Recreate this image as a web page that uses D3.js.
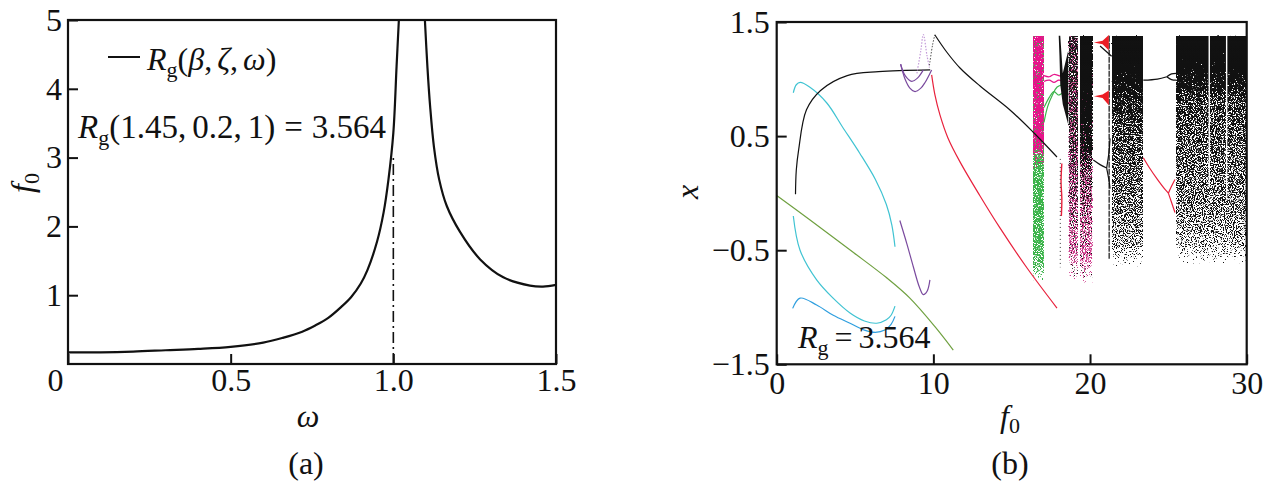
<!DOCTYPE html>
<html>
<head>
<meta charset="utf-8">
<script src="https://cdn.jsdelivr.net/npm/d3@7"></script>
<style>
  body { margin: 0; background: #fff; }
  text { font-family: "Liberation Serif", "DejaVu Serif", serif; fill: #111; }
</style>
</head>
<body>
<script>
'use strict';

// ---------- panel (a): f0 = Rg(beta, zeta, omega) ----------
const omegaLeft = [0, 0.1, 0.2, 0.3, 0.4, 0.5, 0.6, 0.66, 0.72, 0.76, 0.8, 0.84, 0.87, 0.9, 0.92, 0.95, 0.97, 0.985, 1.0, 1.01, 1.017];
const f0Left    = [0.17, 0.17, 0.18, 0.2, 0.22, 0.25, 0.31, 0.38, 0.47, 0.56, 0.67, 0.83, 0.97, 1.17, 1.36, 1.78, 2.2, 2.68, 3.36, 4.33, 5.0];
const omegaRight = [1.097, 1.105, 1.113, 1.125, 1.141, 1.164, 1.205, 1.267, 1.338, 1.42, 1.46, 1.5];
const f0Right    = [5.0, 4.3, 3.75, 3.15, 2.68, 2.3, 1.92, 1.52, 1.26, 1.14, 1.125, 1.15];
const markerLine = [[1.0, 0], [1.0, 3.0]];   // dash-dot at omega = 1
const ticksAx = [0, 0.5, 1.0, 1.5];
const labelsAx = ["0", "0.5", "1.0", "1.5"];
const ticksAy = [1, 2, 3, 4, 5];

// ---------- panel (b): bifurcation diagram, branches as [f0, x] ----------
const blackMain   = [[1.2, -0.01], [1.25, 0.2], [1.4, 0.38], [1.9, 0.73], [2.8, 0.9], [4.5, 1.03], [6.5, 1.065], [9.8, 1.08]];
const cyanUpper   = [[1.06, 0.88], [1.25, 0.95], [1.5, 0.97], [2.1, 0.93], [3.2, 0.79], [4.2, 0.58], [5.3, 0.35], [6.3, 0.12], [7.0, -0.1], [7.35, -0.28], [7.55, -0.47]];
const cyanLower   = [[1.06, -0.2], [1.49, -0.5], [2.55, -0.76], [3.6, -0.92], [4.68, -1.05], [5.6, -1.12], [6.38, -1.14], [7.0, -1.11], [7.3, -1.07], [7.55, -0.99]];
const blueLower   = [[1.02, -1.01], [1.49, -0.92], [2.55, -0.98], [3.61, -1.07], [4.68, -1.14], [5.6, -1.2], [6.3, -1.22], [6.9, -1.2], [7.3, -1.15], [7.55, -1.08]];
const greenLine   = [[0, -0.02], [2.13, -0.235], [4.9, -0.52], [7.0, -0.74], [8.5, -0.92], [10.1, -1.17], [11.27, -1.375]];
const purpleU1    = [[7.91, 1.13], [8.2, 1.03], [8.62, 0.98], [9.0, 1.01], [9.36, 1.08]];
const purpleU2    = [[7.91, 1.13], [8.19, 1.0], [8.5, 0.92], [8.83, 0.89], [9.2, 0.92], [9.47, 0.97], [9.89, 1.08]];
const purpleLow   = [[7.86, -0.24], [8.3, -0.44], [8.72, -0.645], [9.1, -0.82], [9.36, -0.89], [9.6, -0.86], [9.78, -0.76]];
const purpleFaint = [[8.95, 1.05], [9.2, 1.25], [9.36, 1.39], [9.6, 1.2], [9.75, 1.1]];
const blackPeakL  = [[9.75, 1.12], [9.95, 1.3], [10.1, 1.39]];
const blackDesc   = [[10.1, 1.386], [10.85, 1.237], [11.7, 1.097], [12.98, 0.939], [14.89, 0.729], [16.36, 0.536], [17.89, 0.317]];
const redDesc     = [[9.89, 1.036], [10.1, 0.861], [10.42, 0.686], [10.93, 0.484], [11.7, 0.274], [12.98, -0.025], [14.25, -0.305], [15.98, -0.656], [17.89, -1.007]];
const magentaWin1 = [[17.06, 1.03], [17.4, 1.02], [17.7, 1.04], [18.0, 1.03], [18.26, 1.02]];
const magentaWin2 = [[17.06, 0.98], [17.4, 0.99], [17.7, 0.97], [18.0, 0.99], [18.26, 0.98]];
const greenWin1   = [[17.06, 0.62], [17.3, 0.76], [17.6, 0.86], [17.9, 0.93], [18.26, 0.95]];
const greenWin2   = [[17.06, 0.75], [17.4, 0.84], [17.7, 0.89], [18.0, 0.86], [18.26, 0.88]];
const redShort    = [[18.2, 0.26], [18.15, 0.1], [18.2, -0.05], [18.17, -0.2]];
const blackDotted = [[18.1, 0.3], [18.1, -0.65]];
const blackFork   = [[20.21, 0.29], [20.64, 0.25], [21.06, 0.22]];
const blackForkUp = [[21.06, 0.22], [21.2, 0.35], [21.28, 0.48]];
const blackForkDn = [[21.06, 0.22], [21.2, 0.12], [21.28, 0.04]];
const blackDiag   = [[20.64, 1.29], [21.38, 1.2]];
const blackSpike  = [[21.22, 1.38], [21.22, -0.58]];
const blackLink   = [[23.4, 0.99], [24.3, 1.0], [24.9, 1.02]];
const blackLinkUp = [[24.9, 1.02], [25.2, 1.045], [25.5, 1.05]];
const blackLinkDn = [[24.9, 1.02], [25.2, 0.995], [25.5, 0.99]];
const redB        = [[23.4, 0.31], [23.8, 0.22], [24.3, 0.12], [24.8, 0.03], [25.0, 0.0]];
const redBUp      = [[25.0, 0.0], [25.2, 0.06], [25.42, 0.12]];
const redBDn      = [[25.0, 0.0], [25.2, -0.08], [25.42, -0.17]];
const redCusp1    = [[20.25, 1.32], [20.8, 1.335], [21.2, 1.385], [21.2, 1.25], [20.8, 1.305]];
const redCusp2    = [[20.25, 0.85], [20.8, 0.865], [21.2, 0.9], [21.2, 0.77], [20.8, 0.835]];
const blackMass   = [[18.0, 1.38], [18.1, 1.38], [18.26, 1.05], [18.61, 1.25], [18.61, 0.6], [18.26, 0.78], [18.1, 0.95], [18.05, 1.2]];
const gapLines    = [[27.61, 1.38, 0.05], [28.72, 1.38, -0.05]];   // white gaps in last band

// chaotic bands: f0 range, colour and point coverage down the x axis
const bandF0     = [[16.34, 17.06], [16.34, 17.06], [18.61, 19.25], [18.61, 19.25], [19.36, 20.17], [19.36, 20.17], [21.38, 23.4], [25.49, 30]];
const bandColors = ["#3cb44b", "#e6138a", "#d0408f", "#1a1a1a", "#d0408f", "#111111", "#111111", "#111111"];
const bandCover  = [
  [[1.38, 0.5], [0.36, 0.8], [-0.4, 0.75], [-0.62, 0.55], [-0.8, 0]],
  [[1.38, 0.92], [0.42, 0.92], [0.33, 0.3], [0.2, 0]],
  [[1.38, 0.55], [0.6, 0.55], [-0.5, 0.5], [-0.78, 0]],
  [[1.38, 0.7], [0.6, 0.55], [0.0, 0.3], [-0.78, 0]],
  [[1.38, 0.3], [0.5, 0.5], [-0.55, 0.5], [-0.8, 0]],
  [[1.38, 0.97], [0.4, 0.88], [0.2, 0.45], [-0.8, 0]],
  [[1.38, 0.97], [0.85, 0.92], [0.6, 0.7], [0.2, 0.55], [-0.2, 0.45], [-0.45, 0.3], [-0.65, 0]],
  [[1.38, 0.98], [0.92, 0.95], [0.8, 0.65], [0.3, 0.55], [-0.1, 0.45], [-0.35, 0.3], [-0.48, 0.15], [-0.62, 0]]
];
const bandSeeds  = [1, 2, 1, 3, 2, 3, 1, 2];
const ticksBx = [0, 10, 20, 30];
const ticksBy = [-1.5, -0.5, 0.5, 1.5];

const FONT = 32;
const svg = d3.select('body').append('svg').attr('width', 1270).attr('height', 486);

makeGrainFilters();
drawPanelA();
drawPanelB();

// noise filters that turn a coverage gradient into a speckled point cloud
function makeGrainFilters() {
  let defs = svg.append('defs');
  [1, 2, 3].forEach(seed => {
    let f = defs.append('filter').attr('id', 'grain' + seed)
      .attr('x', 0).attr('y', 0).attr('width', 1).attr('height', 1)
      .attr('color-interpolation-filters', 'sRGB');
    f.append('feTurbulence').attr('type', 'fractalNoise').attr('baseFrequency', 0.9)
      .attr('numOctaves', 2).attr('seed', seed * 7).attr('result', 'noise');
    f.append('feColorMatrix').attr('in', 'noise').attr('type', 'matrix')
      .attr('values', '0 0 0 0 0 0 0 0 0 0 0 0 0 0 0 1 0 0 0 0').attr('result', 'na');
    f.append('feComposite').attr('in', 'SourceAlpha').attr('in2', 'na').attr('operator', 'arithmetic')
      .attr('k1', 0).attr('k2', 14).attr('k3', -14).attr('k4', 0).attr('result', 'mask');
    f.append('feColorMatrix').attr('in', 'SourceGraphic').attr('type', 'matrix')
      .attr('values', '1 0 0 0 0 0 1 0 0 0 0 0 1 0 0 0 0 0 0 1').attr('result', 'solid');
    f.append('feComposite').attr('in', 'solid').attr('in2', 'mask').attr('operator', 'in');
  });
}

// R with roman subscript g, then a list of [text, italic, dx] pieces
function rgText(x, y, pieces, size) {
  size = size || FONT;
  let t = svg.append('text').attr('x', x).attr('y', y).style('font-size', size + 'px');
  t.append('tspan').style('font-style', 'italic').text('R');
  t.append('tspan').attr('dy', 7).style('font-size', '22px').text('g');
  pieces.forEach((p, i) => {
    let s = t.append('tspan').style('font-style', p[1] ? 'italic' : 'normal').text(p[0]);
    if (i === 0) s.attr('dy', -7);
    if (p[2]) s.attr('dx', p[2]);
  });
  return t;
}

function styleAxis(g) {
  g.select('.domain').remove();
  g.selectAll('.tick line').attr('stroke', '#111').attr('stroke-width', 2);
  g.selectAll('.tick text').attr('font-family', '"Liberation Serif", serif').attr('font-size', FONT);
  g.attr('font-size', FONT);
}

function drawPanelA() {
  let x = d3.scaleLinear().domain([0, 1.5]).range([68, 556]);
  let y = d3.scaleLinear().domain([0, 5]).range([364, 20]);

  let gx = svg.append('g').attr('transform', 'translate(0,364)')
    .call(d3.axisBottom(x).tickValues(ticksAx).tickSize(-10).tickPadding(4)
      .tickFormat((d, i) => labelsAx[i]));
  styleAxis(gx);
  gx.selectAll('.tick text').filter(d => d === 0).attr('dx', -13);

  let gy = svg.append('g').attr('transform', 'translate(68,0)')
    .call(d3.axisLeft(y).tickValues(ticksAy).tickSize(-10).tickPadding(6).tickFormat(d3.format('d')));
  styleAxis(gy);

  let line = d3.line().x(d => x(d[0])).y(d => y(d[1])).curve(d3.curveCatmullRom.alpha(0.5));
  svg.append('path').datum(omegaLeft.map((w, i) => [w, f0Left[i]]))
    .attr('d', line).attr('fill', 'none').attr('stroke', '#111').attr('stroke-width', 2.2);
  svg.append('path').datum(omegaRight.map((w, i) => [w, f0Right[i]]))
    .attr('d', line).attr('fill', 'none').attr('stroke', '#111').attr('stroke-width', 2.2);
  svg.append('path').datum(markerLine)
    .attr('d', d3.line().x(d => x(d[0])).y(d => y(d[1])))
    .attr('fill', 'none').attr('stroke', '#111').attr('stroke-width', 1.6)
    .style('stroke-dasharray', '11,4,2,4');

  svg.append('rect').attr('x', 68).attr('y', 20).attr('width', 488).attr('height', 344)
    .attr('fill', 'none').attr('stroke', '#111').attr('stroke-width', 2.2);

  // legend and annotation
  svg.append('line').attr('x1', 108).attr('x2', 140).attr('y1', 57).attr('y2', 57)
    .attr('stroke', '#111').attr('stroke-width', 2);
  rgText(147, 70, [['(', 0], ['β', 1], [',', 0], ['ζ', 1, 5], [',', 0], ['ω', 1, 5], [')', 0]]);
  rgText(78, 138, [['(1.45,', 0], ['0.2,', 0, 6], ['1)', 0, 6], ['=', 0, 9], ['3.564', 0, 9]], 33);

  svg.append('text').attr('x', 308).attr('y', 427).attr('text-anchor', 'middle')
    .style('font-size', FONT + 'px').style('font-style', 'italic').text('ω');
  let fl = svg.append('text').attr('transform', 'translate(33,183) rotate(-90)')
    .attr('text-anchor', 'middle').style('font-size', FONT + 'px');
  fl.append('tspan').style('font-style', 'italic').text('f');
  fl.append('tspan').attr('dy', 6).style('font-size', '22px').text('0');
  svg.append('text').attr('x', 306).attr('y', 474).attr('text-anchor', 'middle')
    .style('font-size', FONT + 'px').text('(a)');
}

function drawPanelB() {
  let x = d3.scaleLinear().domain([0, 30]).range([776.7, 1246.7]);
  let y = d3.scaleLinear().domain([-1.5, 1.5]).range([364.3, 22]);
  let defs = svg.select('defs');

  // chaotic bands
  bandF0.forEach((r, i) => {
    let yTop = y(bandCover[i][0][0]);
    let yBot = y(bandCover[i][bandCover[i].length - 1][0]);
    let grad = defs.append('linearGradient').attr('id', 'band' + i)
      .attr('gradientUnits', 'userSpaceOnUse')
      .attr('x1', 0).attr('x2', 0).attr('y1', yTop).attr('y2', yBot);
    bandCover[i].forEach(s => {
      let c = s[1];
      let dens = c >= 0.97 ? 1 : (c <= 0 ? 0.3 : 0.4 + c * 0.3);
      grad.append('stop').attr('offset', (y(s[0]) - yTop) / (yBot - yTop))
        .attr('stop-color', bandColors[i]).attr('stop-opacity', dens);
    });
    svg.append('rect').attr('x', x(r[0])).attr('width', x(r[1]) - x(r[0]))
      .attr('y', yTop).attr('height', yBot - yTop)
      .attr('fill', 'url(#band' + i + ')').attr('filter', 'url(#grain' + bandSeeds[i] + ')');
  });

  gapLines.forEach(g => {
    svg.append('line').attr('x1', x(g[0])).attr('x2', x(g[0])).attr('y1', y(g[1])).attr('y2', y(g[2]))
      .attr('stroke', '#fff').attr('stroke-width', 1.4);
  });

  let line = d3.line().x(d => x(d[0])).y(d => y(d[1])).curve(d3.curveCatmullRom);
  function branch(data, color, width, dash) {
    let p = svg.append('path').datum(data).attr('d', line).attr('fill', 'none')
      .attr('stroke', color).attr('stroke-width', width || 1.2);
    if (dash) p.style('stroke-dasharray', dash);
  }
  function patch(data, color) {
    svg.append('path').datum(data).attr('d', d3.line().x(d => x(d[0])).y(d => y(d[1])).curve(d3.curveLinearClosed))
      .attr('fill', color).attr('stroke', 'none');
  }

  branch(greenLine, '#6fa040');
  branch(cyanUpper, '#3fc3d2');
  branch(cyanLower, '#3fc3d2');
  branch(blueLower, '#2f9fdf');
  branch(blackMain, '#111');
  branch(purpleU1, '#7a4a9e');
  branch(purpleU2, '#7a4a9e');
  branch(purpleLow, '#7a4a9e');
  branch(purpleFaint, '#c39ad8', 1.2, '1.5,1.5');
  branch(blackPeakL, '#555', 1, '1.5,1.5');
  branch(blackDesc, '#111');
  branch(redDesc, '#e8213c');
  branch(magentaWin1, '#e6138a');
  branch(magentaWin2, '#e6138a');
  branch(greenWin1, '#3cb44b');
  branch(greenWin2, '#3cb44b');
  patch(blackMass, '#111');
  branch(redShort, '#e8213c', 1.4);
  branch(blackDotted, '#333', 1, '1,3');
  branch(blackFork, '#111');
  branch(blackForkUp, '#111');
  branch(blackForkDn, '#111');
  branch(blackDiag, '#111');
  branch(blackSpike, '#111', 1.2, '6,1');
  patch(redCusp1, '#ec1c24');
  patch(redCusp2, '#ec1c24');
  branch(blackLink, '#111');
  branch(blackLinkUp, '#111');
  branch(blackLinkDn, '#111');
  branch(redB, '#e8213c');
  branch(redBUp, '#e8213c');
  branch(redBDn, '#e8213c');

  let gx = svg.append('g').attr('transform', 'translate(0,364.3)')
    .call(d3.axisBottom(x).tickValues(ticksBx).tickSize(-10).tickPadding(7).tickFormat(d3.format('d')));
  styleAxis(gx);
  let gy = svg.append('g').attr('transform', 'translate(776.7,0)')
    .call(d3.axisLeft(y).tickValues(ticksBy).tickSize(-10).tickPadding(7).tickFormat(d3.format('.1f')));
  styleAxis(gy);

  svg.append('rect').attr('x', 776.7).attr('y', 22).attr('width', 470).attr('height', 342.3)
    .attr('fill', 'none').attr('stroke', '#111').attr('stroke-width', 2.2);

  rgText(798, 348, [['=', 0, 6], ['3.564', 0, 6]]);

  let fl = svg.append('text').attr('x', 1010).attr('y', 427).attr('text-anchor', 'middle')
    .style('font-size', FONT + 'px');
  fl.append('tspan').style('font-style', 'italic').text('f');
  fl.append('tspan').attr('dy', 6).style('font-size', '22px').text('0');
  svg.append('text').attr('transform', 'translate(698,192) rotate(-90)').attr('text-anchor', 'middle')
    .style('font-size', FONT + 'px').style('font-style', 'italic').text('x');
  svg.append('text').attr('x', 1010).attr('y', 474).attr('text-anchor', 'middle')
    .style('font-size', FONT + 'px').text('(b)');
}
</script>
</body>
</html>
